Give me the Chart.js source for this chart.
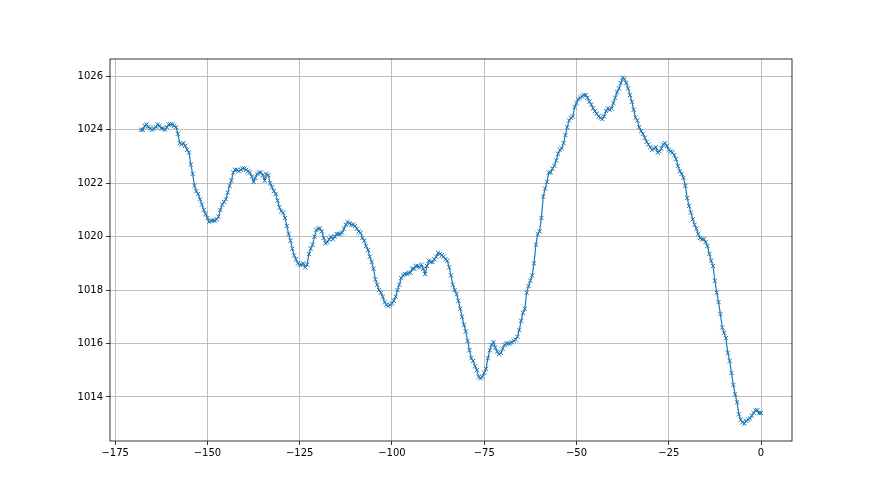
<!DOCTYPE html>
<html>
<head>
<meta charset="utf-8">
<style>
  html, body { margin: 0; padding: 0; background: #ffffff; }
  #wrap { width: 880px; height: 495px; }
</style>
<script src="https://cdn.jsdelivr.net/npm/chart.js@4/dist/chart.umd.min.js"></script>
</head>
<body>
<div id="wrap"><canvas id="plot" width="880" height="495"></canvas></div>
<script>
// pressure readings, one every half hour, oldest first (hours before now)
var startHour = -168;
var stepHour = 0.5;

var pressure = [
    1024.0, 1024.0, 1024.15, 1024.2, 1024.1, 1024.05, 1024.0, 1024.05, 1024.1, 1024.2,
    1024.15, 1024.05, 1024.05, 1024.0, 1024.1, 1024.2, 1024.2, 1024.2, 1024.15, 1024.1,
    1023.85, 1023.5, 1023.45, 1023.5, 1023.4, 1023.25, 1023.15, 1022.7, 1022.35, 1021.9,
    1021.7, 1021.6, 1021.4, 1021.2, 1021.0, 1020.85, 1020.7, 1020.55, 1020.6, 1020.6,
    1020.6, 1020.65, 1020.75, 1021.0, 1021.2, 1021.3, 1021.4, 1021.65, 1021.9, 1022.1,
    1022.4, 1022.5, 1022.5, 1022.45, 1022.5, 1022.55, 1022.55, 1022.5, 1022.45, 1022.4,
    1022.25, 1022.05, 1022.2, 1022.35, 1022.4, 1022.4, 1022.3, 1022.1, 1022.35, 1022.3,
    1022.0, 1021.85, 1021.7, 1021.6, 1021.35, 1021.1, 1020.95, 1020.9, 1020.7, 1020.4,
    1020.1, 1019.85, 1019.55, 1019.3, 1019.15, 1019.0, 1018.95, 1018.95, 1019.0, 1018.85,
    1018.95, 1019.35, 1019.55, 1019.7, 1020.0, 1020.25, 1020.3, 1020.3, 1020.2, 1019.95,
    1019.75, 1019.8, 1019.9, 1020.0, 1019.9, 1020.0, 1020.1, 1020.1, 1020.1, 1020.15,
    1020.3, 1020.45, 1020.55, 1020.5, 1020.45, 1020.45, 1020.4, 1020.3, 1020.2, 1020.15,
    1019.95, 1019.85, 1019.65, 1019.5, 1019.25, 1019.05, 1018.8, 1018.4, 1018.2, 1018.0,
    1017.9, 1017.75, 1017.55, 1017.45, 1017.4, 1017.45, 1017.5, 1017.6, 1017.75, 1018.0,
    1018.2, 1018.45, 1018.55, 1018.6, 1018.6, 1018.65, 1018.65, 1018.8, 1018.8, 1018.9,
    1018.9, 1018.85, 1018.95, 1018.8, 1018.6, 1018.9, 1019.1, 1019.05, 1019.05, 1019.15,
    1019.25, 1019.4, 1019.35, 1019.3, 1019.25, 1019.15, 1019.1, 1018.85, 1018.55, 1018.2,
    1018.0, 1017.85, 1017.6, 1017.3, 1017.0, 1016.7, 1016.45, 1016.1, 1015.75, 1015.45,
    1015.35, 1015.15, 1015.0, 1014.75, 1014.7, 1014.75, 1014.9, 1015.05, 1015.45, 1015.75,
    1015.95, 1016.05, 1015.85, 1015.7, 1015.6, 1015.65, 1015.8, 1015.95, 1016.0, 1016.0,
    1016.0, 1016.05, 1016.1, 1016.15, 1016.25, 1016.5, 1016.85, 1017.15, 1017.3, 1017.9,
    1018.15, 1018.35, 1018.55, 1019.0, 1019.7, 1020.1, 1020.2, 1020.7, 1021.5, 1021.8,
    1022.05, 1022.4, 1022.4, 1022.55, 1022.65, 1022.85, 1023.1, 1023.25, 1023.3, 1023.5,
    1023.8, 1024.1, 1024.35, 1024.45, 1024.5, 1024.85, 1025.0, 1025.15, 1025.2, 1025.25,
    1025.3, 1025.3, 1025.2, 1025.05, 1024.95, 1024.8, 1024.7, 1024.6, 1024.5, 1024.45,
    1024.4, 1024.5, 1024.7, 1024.8, 1024.75, 1024.8, 1025.0, 1025.2, 1025.4, 1025.55,
    1025.75, 1025.95, 1025.9, 1025.75, 1025.55, 1025.3, 1025.05, 1024.75, 1024.45, 1024.35,
    1024.1, 1023.95, 1023.85, 1023.7, 1023.55, 1023.45, 1023.35, 1023.25, 1023.3, 1023.35,
    1023.15, 1023.2, 1023.3, 1023.45, 1023.5, 1023.4, 1023.25, 1023.2, 1023.15, 1023.05,
    1022.9, 1022.65, 1022.45, 1022.35, 1022.2, 1021.9, 1021.45, 1021.15, 1020.9, 1020.65,
    1020.45, 1020.3, 1020.1, 1019.95, 1019.9, 1019.9, 1019.8, 1019.65, 1019.35, 1019.1,
    1018.9, 1018.35, 1017.9, 1017.55, 1017.1, 1016.6, 1016.4, 1016.2, 1015.65, 1015.35,
    1014.9, 1014.45, 1014.1, 1013.8, 1013.35, 1013.15, 1013.05, 1013.0, 1013.1, 1013.15,
    1013.2, 1013.3, 1013.4, 1013.5, 1013.5, 1013.4, 1013.4
];

var xTicks = [-175, -150, -125, -100, -75, -50, -25, 0];
var yTicks = [1014, 1016, 1018, 1020, 1022, 1024, 1026];

// build the point list for the scatter-line
var points = [];
for (let i = 0; i < pressure.length; i++) {
    points.push({ x: startHour + i * stepHour, y: pressure[i] });
}

// matplotlib style minus sign
function fmtTick(v) {
    return String(v).replace('-', '\u2212');
}

// black frame round the plot area, like the four spines
const framePlugin = {
    id: 'frame',
    afterDraw(chart) {
        const a = chart.chartArea;
        const ctx = chart.ctx;
        ctx.save();
        ctx.strokeStyle = '#000000';
        ctx.lineWidth = 0.8;
        ctx.strokeRect(a.left, a.top, a.right - a.left, a.bottom - a.top);
        ctx.restore();
    }
};

const ctx = document.getElementById('plot');
new Chart(ctx, {
    type: 'line',
    data: {
        datasets: [{
            data: points,
            borderColor: '#1f77b4',
            borderWidth: 1.2,
            pointStyle: 'crossRot',
            pointRadius: 3,
            pointBorderColor: '#1f77b4',
            pointBorderWidth: 1,
            tension: 0,
            fill: false
        }]
    },
    options: {
        responsive: false,
        animation: false,
        events: [],
        layout: { padding: { left: 0, top: 59, right: 88, bottom: 0 } },
        plugins: { legend: { display: false }, tooltip: { enabled: false } },
        scales: {
            x: {
                type: 'linear',
                min: -176.4,
                max: 8.4,
                afterBuildTicks: (scale) => { scale.ticks = xTicks.map(v => ({ value: v })); },
                afterFit: (scale) => { scale.height = 54; },
                grid: { color: '#b0b0b0', lineWidth: 0.8, tickColor: '#000000', tickLength: 4 },
                border: { display: false },
                ticks: {
                    color: '#000000',
                    padding: 2,
                    maxRotation: 0,
                    font: { family: 'DejaVu Sans', size: 10 },
                    callback: (v) => fmtTick(v)
                }
            },
            y: {
                type: 'linear',
                min: 1012.35,
                max: 1026.65,
                afterBuildTicks: (scale) => { scale.ticks = yTicks.map(v => ({ value: v })); },
                afterFit: (scale) => { scale.width = 110; },
                grid: { color: '#b0b0b0', lineWidth: 0.8, tickColor: '#000000', tickLength: 4 },
                border: { display: false },
                ticks: {
                    color: '#000000',
                    padding: 3,
                    font: { family: 'DejaVu Sans', size: 10 },
                    callback: (v) => fmtTick(v)
                }
            }
        }
    },
    plugins: [framePlugin]
});
</script>
</body>
</html>
